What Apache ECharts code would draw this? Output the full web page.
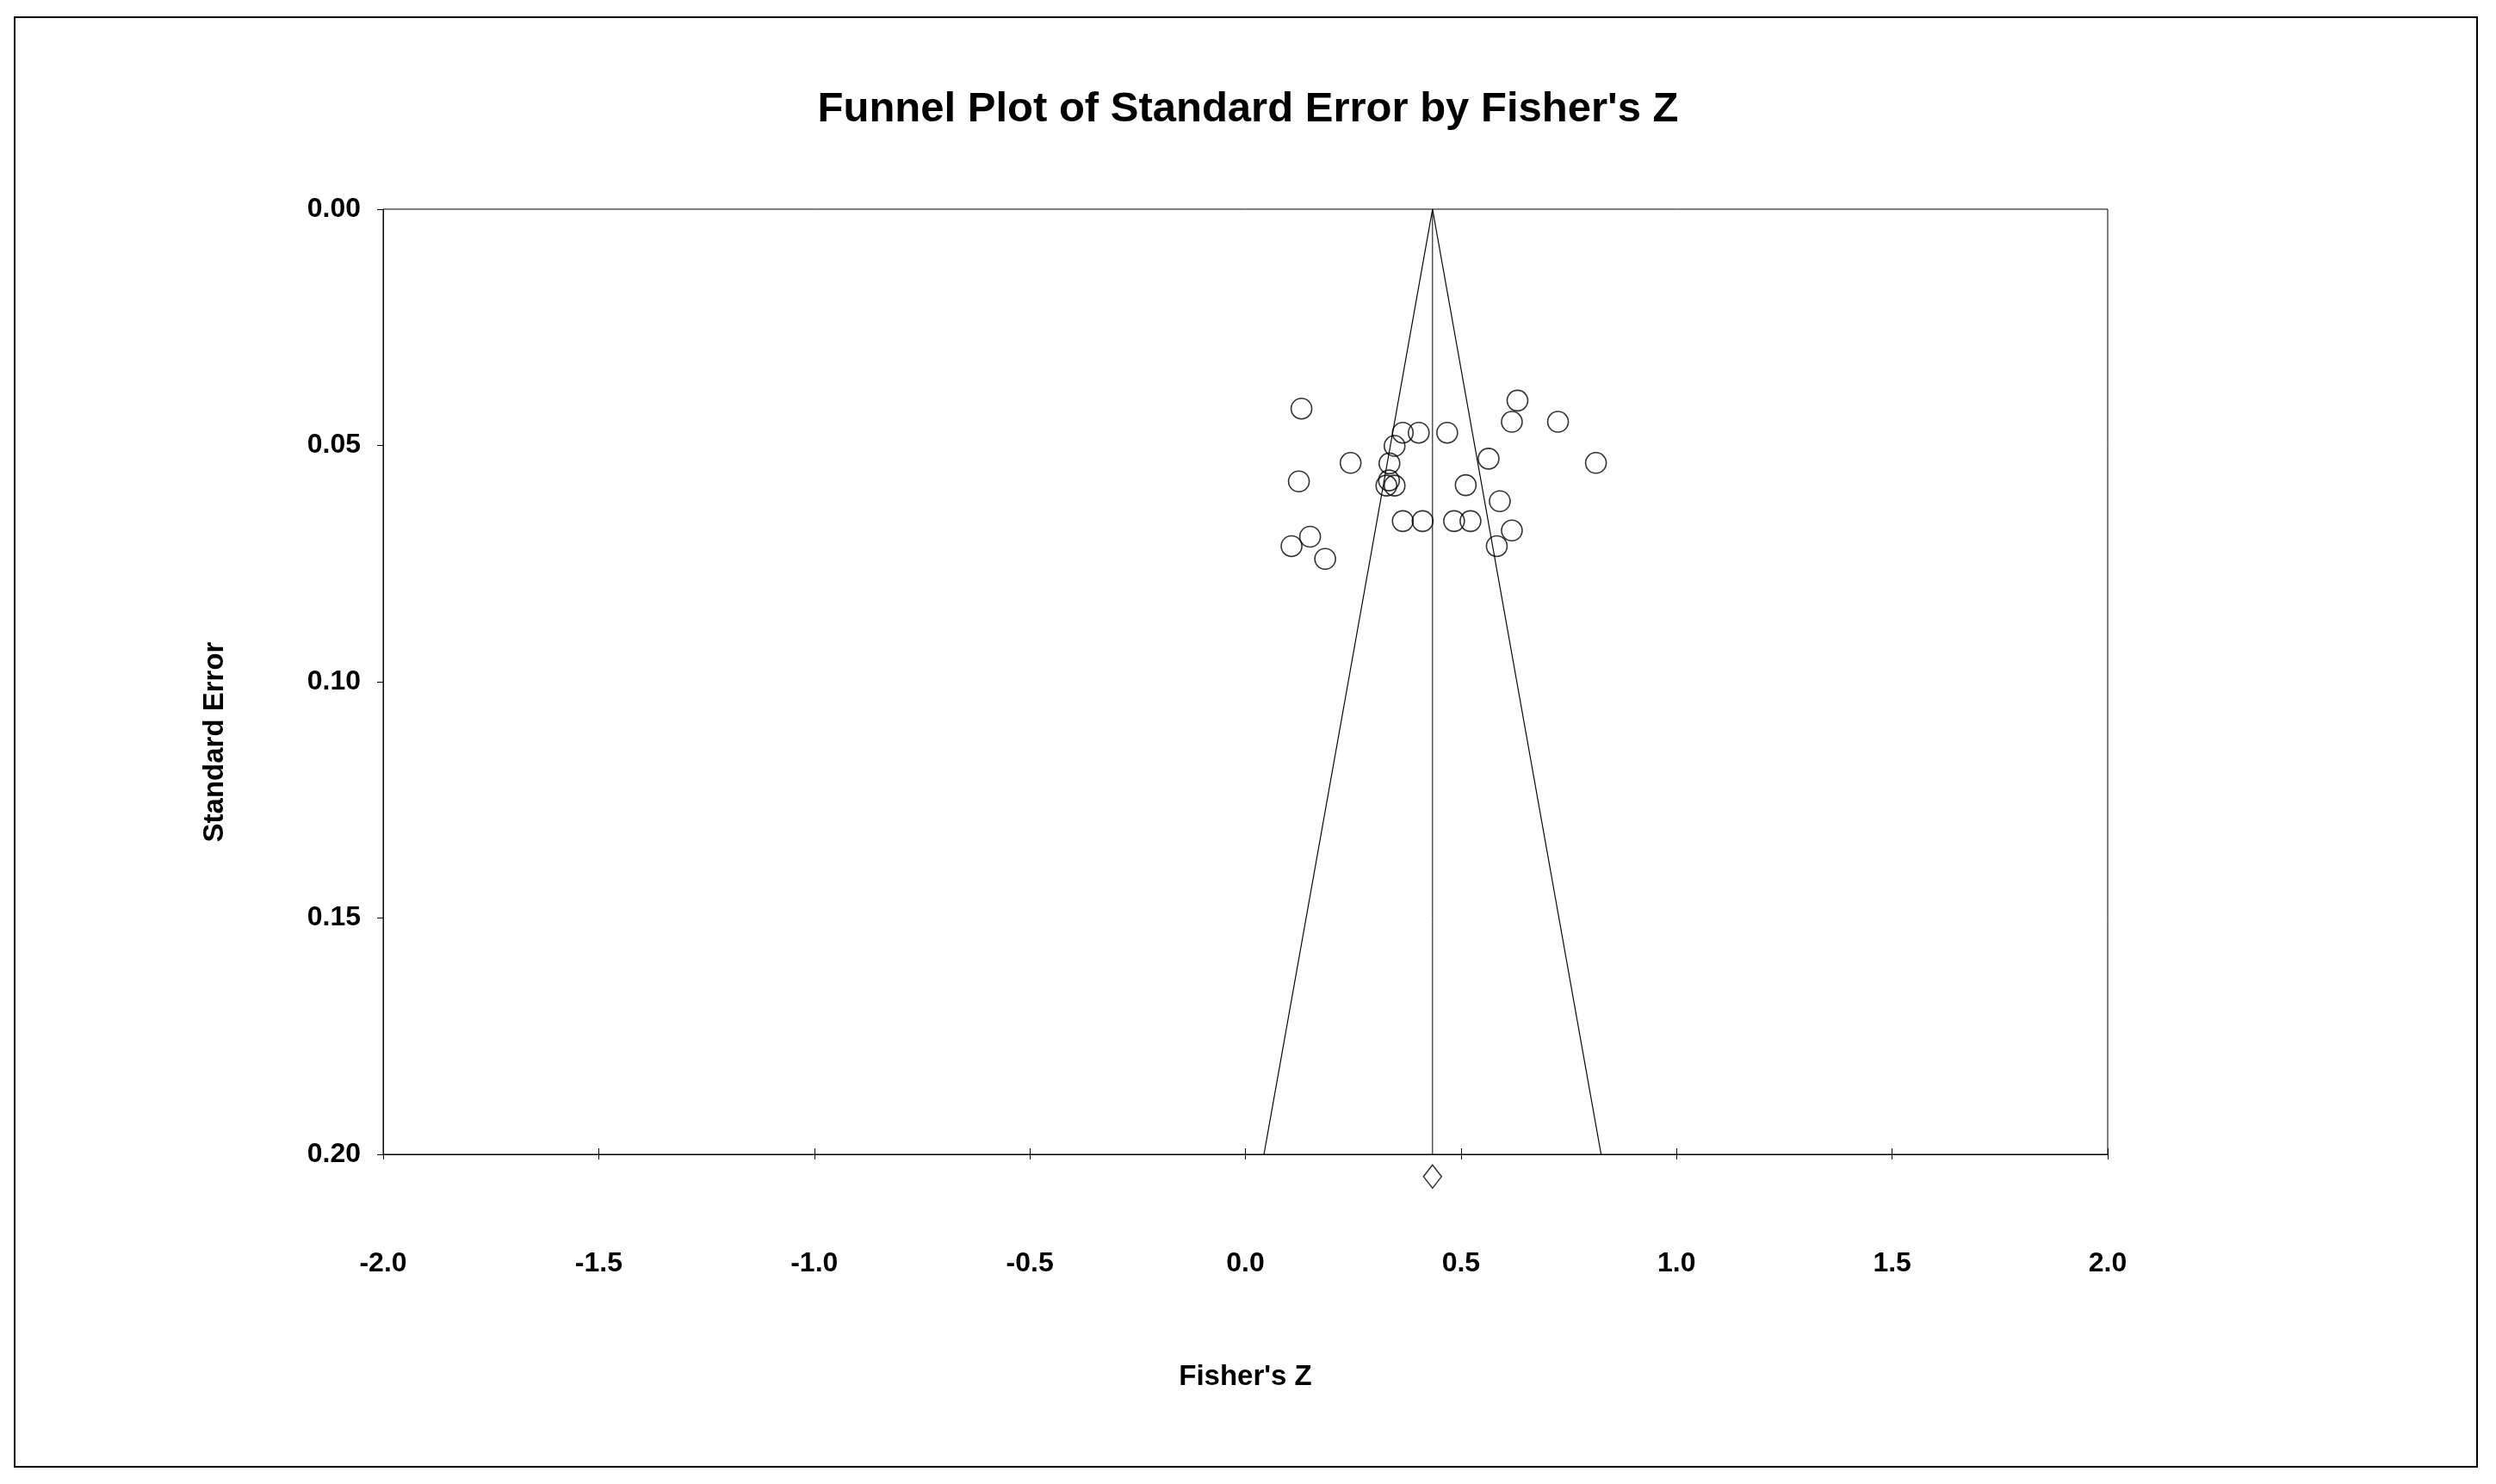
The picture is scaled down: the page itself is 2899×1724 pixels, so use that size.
<!DOCTYPE html>
<html>
<head>
<meta charset="utf-8">
<script src="https://cdn.jsdelivr.net/npm/echarts@6/dist/echarts.min.js"></script>
<style>
  html, body { margin: 0; padding: 0; background: #fff; }
  #frame { position: absolute; left: 16px; top: 19px; width: 2858px; height: 1682px; border: 2px solid #000; }
  #chart { position: absolute; left: 0; top: 0; width: 2899px; height: 1724px; }
</style>
</head>
<body>
<div id="frame"></div>
<div id="chart"></div>
<script>
// study effects (Fisher's Z) and their standard errors
const fisherZ = [0.130, 0.631, 0.618, 0.725, 0.365, 0.402, 0.468, 0.346, 0.564, 0.244,
                 0.334, 0.813, 0.124, 0.333, 0.327, 0.346, 0.511, 0.590, 0.365, 0.411,
                 0.484, 0.522, 0.618, 0.150, 0.107, 0.583, 0.185]
const stdErr = [0.0422, 0.0405, 0.0450, 0.0450, 0.0473, 0.0473, 0.0473, 0.0501, 0.0528, 0.0537,
                0.0538, 0.0537, 0.0576, 0.0574, 0.0585, 0.0585, 0.0584, 0.0618, 0.0660, 0.0660,
                0.0660, 0.0660, 0.0680, 0.0693, 0.0713, 0.0713, 0.0740]

// combined effect and funnel limits at the bottom of the plot
const summaryZ = 0.434
const summarySE = 0.2047
const funnelLow = 0.043
const funnelHigh = 0.825
const seMax = 0.20

const points = fisherZ.map((z, i) => [z, stdErr[i]])

var chart = echarts.init(document.getElementById('chart'))
const font = 'Liberation Sans, Arial, sans-serif'

chart.setOption({
  animation: false,
  title: {
    text: "Funnel Plot of Standard Error by Fisher's Z",
    left: 'center',
    top: 98,
    textStyle: { fontFamily: font, fontSize: 49, fontWeight: 'bold', color: '#000' }
  },
  grid: {
    left: 445, right: 451, top: 243, bottom: 383,
    show: true, borderColor: '#000', borderWidth: 1
  },
  xAxis: [{
    type: 'value',
    min: -2, max: 2, interval: 0.5,
    position: 'bottom',
    name: "Fisher's Z",
    nameLocation: 'middle',
    nameGap: 242,
    nameTextStyle: { fontFamily: font, fontSize: 33, fontWeight: 'bold', color: '#000' },
    axisLine: { show: true, onZero: false, lineStyle: { color: '#000', width: 1 } },
    axisTick: { show: true, length: 6, lineStyle: { color: '#000' } },
    axisLabel: {
      margin: 111,
      fontFamily: font, fontSize: 32, fontWeight: 'bold', color: '#000',
      formatter: v => v.toFixed(1)
    },
    splitLine: { show: false }
  }, {
    // second copy of the axis only to draw the upper half of the crossing ticks
    type: 'value',
    min: -2, max: 2, interval: 0.5,
    position: 'top',
    offset: -1098,
    axisLine: { show: false, onZero: false },
    axisTick: { show: true, length: 7, lineStyle: { color: '#000' } },
    axisLabel: { show: false },
    splitLine: { show: false }
  }],
  yAxis: {
    type: 'value',
    inverse: true,
    min: 0, max: seMax, interval: 0.05,
    axisLine: { show: true, onZero: false, lineStyle: { color: '#000', width: 1 } },
    axisTick: { show: true, length: 7, lineStyle: { color: '#000' } },
    axisLabel: {
      margin: 26,
      fontFamily: font, fontSize: 32, fontWeight: 'bold', color: '#000',
      formatter: v => v.toFixed(2)
    },
    splitLine: { show: false }
  },
  graphic: [{
    type: 'text',
    x: 250, y: 862,
    rotation: Math.PI / 2,
    style: {
      text: 'Standard Error',
      fontFamily: font, fontSize: 33, fontWeight: 'bold', fill: '#000',
      align: 'center', verticalAlign: 'middle'
    }
  }],
  series: [{
    type: 'line',
    data: [[funnelLow, seMax], [summaryZ, 0], [funnelHigh, seMax]],
    symbol: 'none',
    lineStyle: { color: '#000', width: 1.2 },
    silent: true
  }, {
    type: 'line',
    data: [[summaryZ, 0], [summaryZ, seMax]],
    symbol: 'none',
    lineStyle: { color: '#000', width: 1 },
    silent: true
  }, {
    type: 'scatter',
    data: points,
    symbol: 'circle',
    symbolSize: 24,
    itemStyle: { color: 'rgba(0,0,0,0)', borderColor: '#000', borderWidth: 1.6 }
  }, {
    type: 'scatter',
    data: [[summaryZ, summarySE]],
    clip: false,
    symbol: 'diamond',
    symbolSize: [21, 27],
    itemStyle: { color: 'rgba(0,0,0,0)', borderColor: '#000', borderWidth: 1.5 }
  }]
})
</script>
</body>
</html>
